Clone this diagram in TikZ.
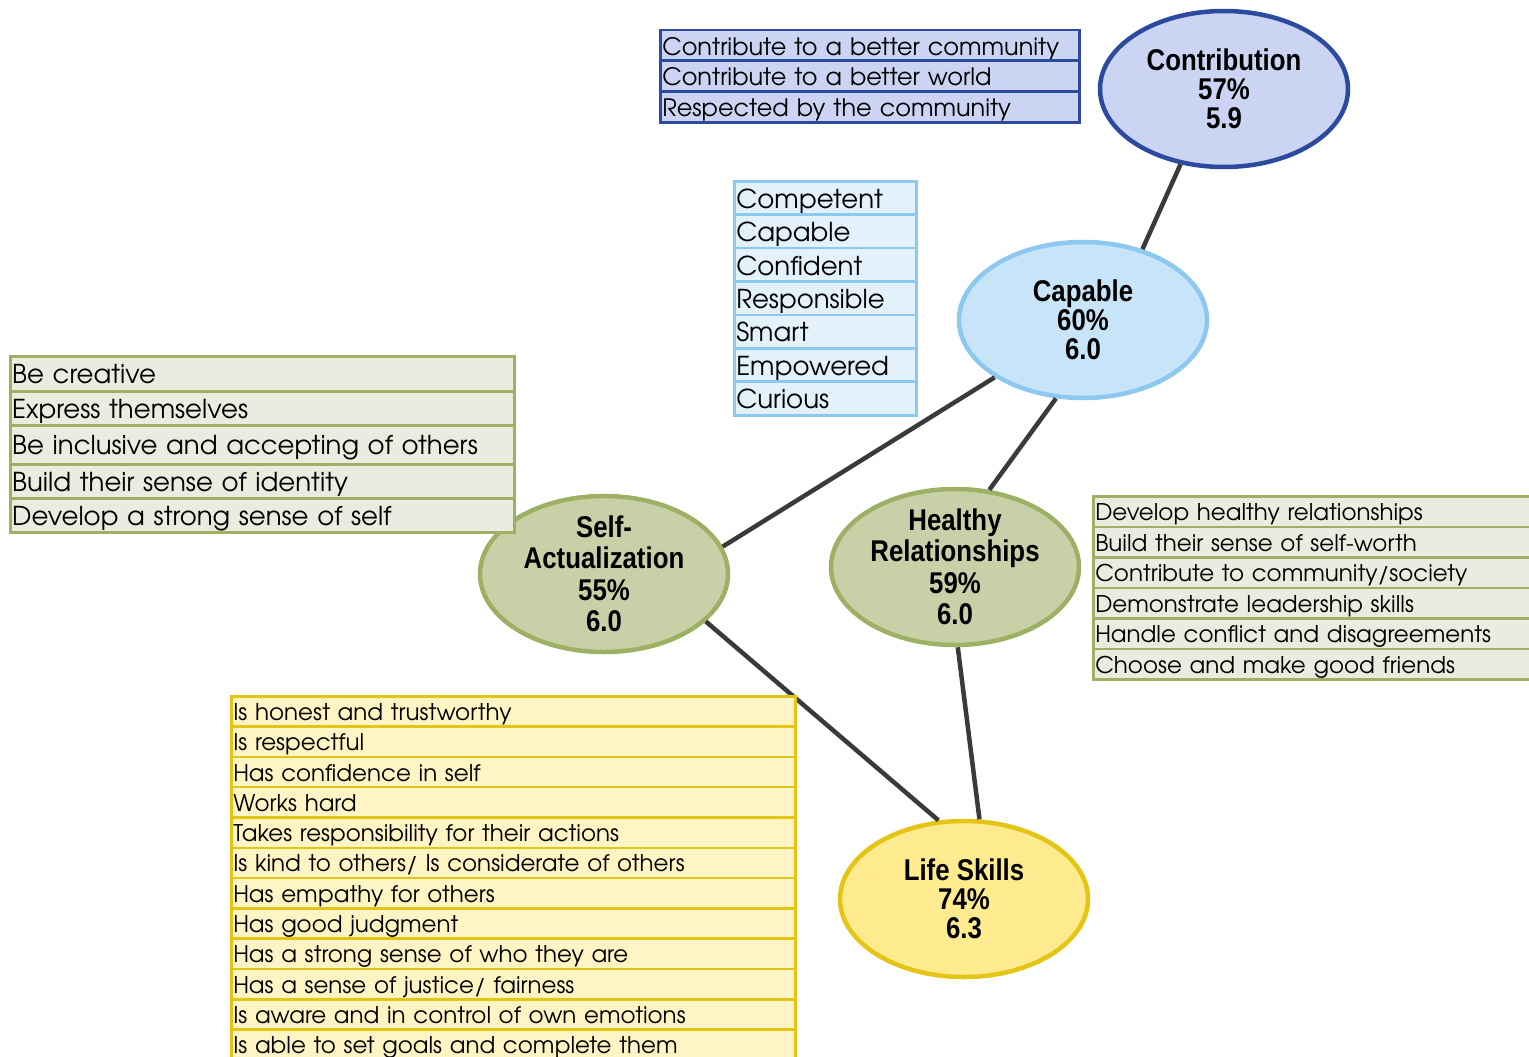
\documentclass[tikz,border=0pt]{standalone}
\usepackage{fontspec}
\newfontfamily\gothic{texgyreadventor-regular.otf}
\newfontfamily\ovalfont{Liberation Sans Bold}[FakeStretch=0.86]
\usetikzlibrary{shapes.geometric}

\definecolor{contrline}{RGB}{44,74,158}
\definecolor{contrfill}{RGB}{203,213,243}
\definecolor{capline}{RGB}{140,200,239}
\definecolor{capfill}{RGB}{200,228,248}
\definecolor{caprow}{RGB}{227,241,251}
\definecolor{oliveline}{RGB}{158,176,100}
\definecolor{olivefill}{RGB}{201,208,168}
\definecolor{oliverow}{RGB}{235,236,224}
\definecolor{lifeline}{RGB}{228,196,20}
\definecolor{lifefill}{RGB}{254,235,143}
\definecolor{liferow}{RGB}{255,244,196}
\definecolor{linkgray}{RGB}{58,58,58}

\tikzset{
  oval/.style={ellipse, minimum width=248pt, minimum height=156pt, line width=4.5pt,
    inner sep=-25pt, outer sep=2.3pt, align=center,
    font=\ovalfont\fontsize{30}{29}\selectfont},
  tall/.style={font=\ovalfont\fontsize{30}{31.5}\selectfont},
  row/.style={draw, anchor=north west, inner xsep=2pt, inner ysep=0pt, align=left},
  toprow/.style={row, draw=contrline, fill=contrfill, line width=2.5pt, text width=415pt,
    minimum height=30.5pt, text height=25pt, text depth=6pt,
    font=\gothic\fontsize{24}{24}\selectfont},
  caprowbox/.style={row, draw=capline, fill=caprow, line width=2.5pt, text width=178pt,
    minimum height=33.4pt, text height=27pt, text depth=7pt,
    font=\gothic\fontsize{26}{26}\selectfont},
  selfrow/.style={row, draw=oliveline, fill=oliverow, line width=2.5pt, text width=500pt,
    text height=27pt, text depth=7pt, font=\gothic\fontsize{26}{26}\selectfont},
  healrow/.style={row, draw=oliveline, fill=oliverow, line width=2.5pt, text width=441pt,
    minimum height=30.5pt, text height=24pt, text depth=6pt,
    font=\gothic\fontsize{23}{23}\selectfont},
  liferowbox/.style={row, draw=lifeline, fill=liferow, line width=2.5pt, text width=560pt,
    minimum height=30.3pt, text height=24pt, text depth=6pt,
    font=\gothic\fontsize{23}{23}\selectfont},
  link/.style={draw=linkgray, line width=4.5pt},
}

\begin{document}
\begin{tikzpicture}[x=1pt,y=-1pt]
  \useasboundingbox (0,0) rectangle (1529,1057);

  % ovals
  \node[oval, draw=contrline, fill=contrfill] (contr) at (1224,89)  {Contribution\\57\%\\5.9};
  \node[oval, draw=capline,   fill=capfill]   (cap)   at (1083,320) {Capable\\60\%\\6.0};
  \node[oval, tall, draw=oliveline, fill=olivefill] (self) at (604,574) {Self-\\Actualization\\55\%\\6.0};
  \node[oval, tall, draw=oliveline, fill=olivefill] (heal) at (955,567) {Healthy\\Relationships\\59\%\\6.0};
  \node[oval, draw=lifeline,  fill=lifefill]  (life)  at (964,899)  {Life Skills\\74\%\\6.3};

  % links
  \draw[link] (contr.240) -- (cap.50);
  \draw[link] (cap.213) -- (self.13);
  \draw[link] (cap.251) -- (heal.66);
  \draw[link] (self.-25) -- (life.108);
  \draw[link] (heal.272) -- (life.79);

  % lists
  \foreach \t [count=\i] in {Contribute to a better community, Contribute to a better world,
      Respected by the community}
    \node[toprow] (ct\i) at (659,{29+30.5*(\i-1)}) {\t};
  \foreach \t [count=\i] in {Competent, Capable, Confident, Responsible, Smart, Empowered, Curious}
    \node[caprowbox] (ca\i) at (733,{180+33.4*(\i-1)}) {\t};
  \foreach \ya/\yb/\t [count=\i] in {355/390/Be creative, 390/424/Express themselves,
      424/463/Be inclusive and accepting of others, 463/497/Build their sense of identity,
      497/530/Develop a strong sense of self}
    \node[selfrow, minimum height=\yb-\ya] (sa\i) at (9,\ya) {\t};
  \foreach \t [count=\i] in {Develop healthy relationships, Build their sense of self-worth,
      Contribute to community/society, Demonstrate leadership skills,
      Handle conflict and disagreements, Choose and make good friends}
    \node[healrow] (hr\i) at (1092,{495+30.5*(\i-1)}) {\t};
  \foreach \t [count=\i] in {Is honest and trustworthy, Is respectful, Has confidence in self,
      Works hard, Takes responsibility for their actions,
      Is kind to others/ Is considerate of others, Has empathy for others,
      Has good judgment, Has a strong sense of who they are,
      Has a sense of justice/ fairness, Is aware and in control of own emotions,
      Is able to set goals and complete them}
    \node[liferowbox] (ls\i) at (230,{695+30.3*(\i-1)}) {\t};
\end{tikzpicture}
\end{document}
